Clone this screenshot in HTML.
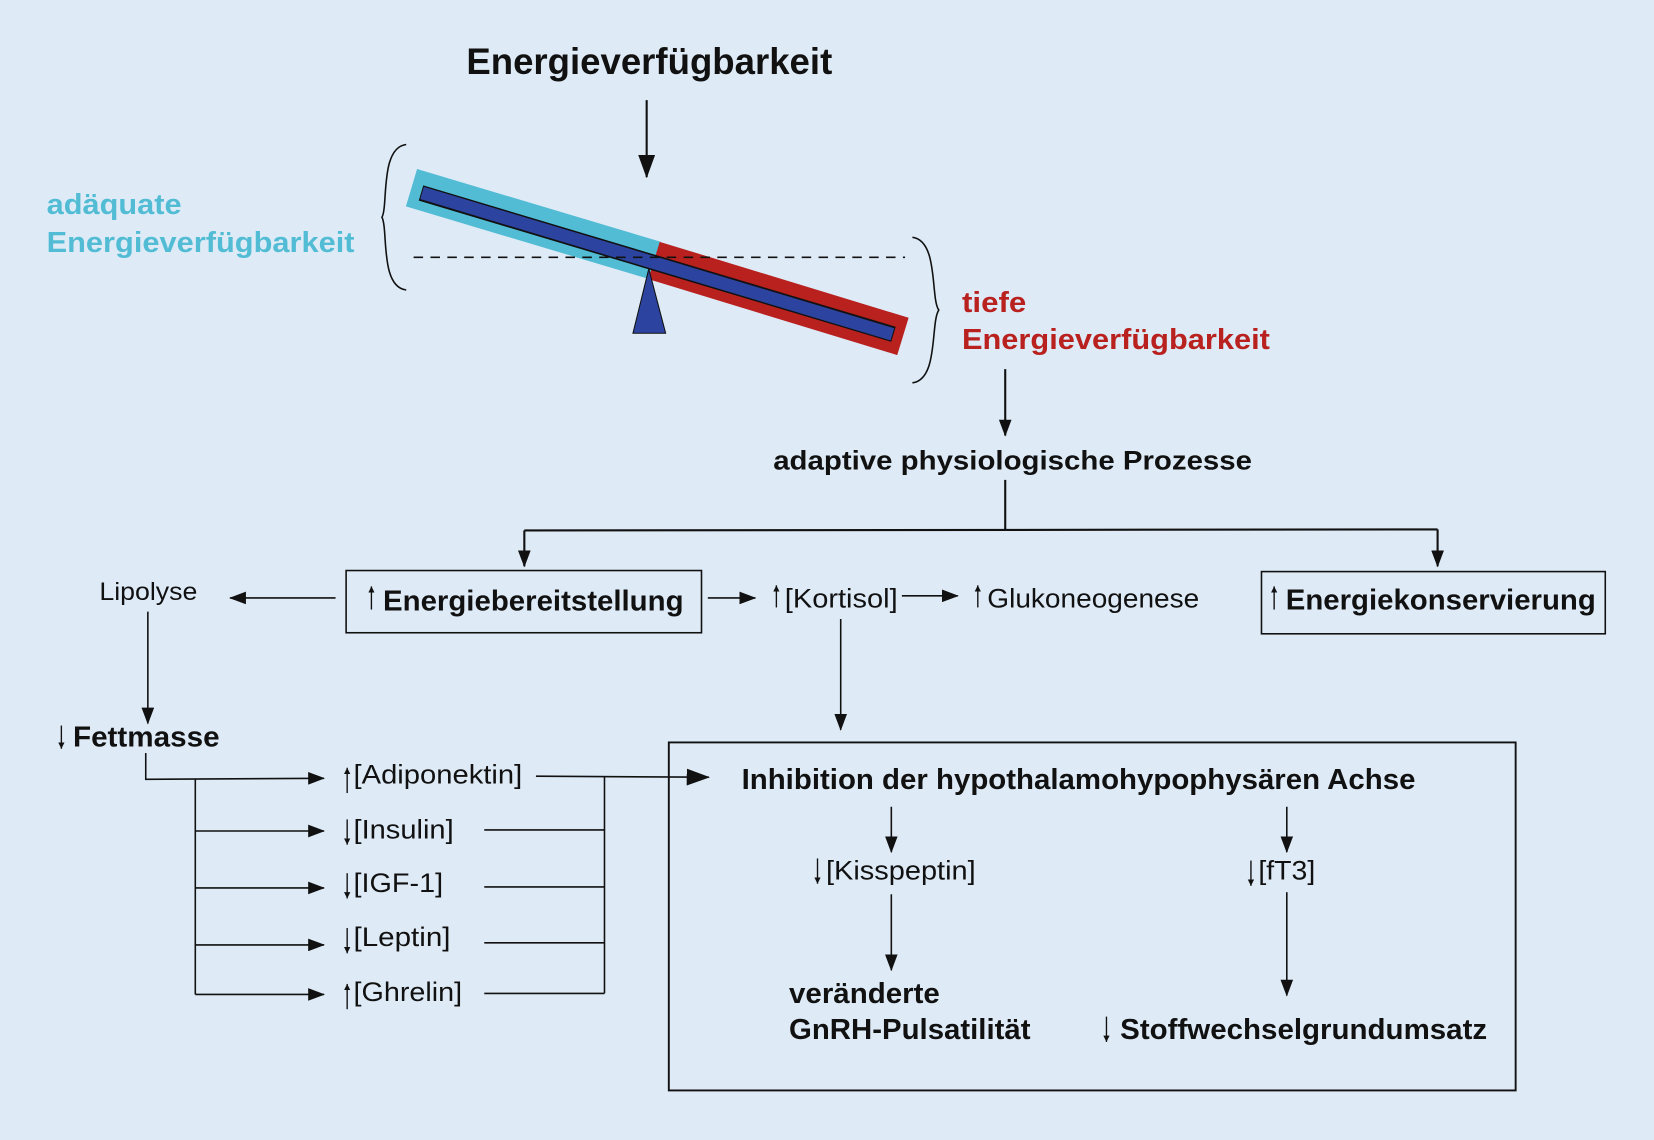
<!DOCTYPE html>
<html><head><meta charset="utf-8"><style>
html,body{margin:0;padding:0;background:#deebf7;}
svg{display:block;}
text{font-family:"Liberation Sans",Arial,sans-serif;fill:#111;}
.b{font-weight:bold;}
</style></head><body>
<svg width="1654" height="1140" viewBox="0 0 1568 1081" xmlns="http://www.w3.org/2000/svg">
<defs>
<marker id="a" markerWidth="16" markerHeight="12" refX="15" refY="6" orient="auto" markerUnits="userSpaceOnUse"><path d="M0,0 L16,6 L0,12 Z" fill="#111"/></marker>
<marker id="big" markerWidth="22" markerHeight="16" refX="21" refY="8" orient="auto" markerUnits="userSpaceOnUse"><path d="M0,0 L22,8 L0,16 Z" fill="#111"/></marker>
<marker id="s" markerWidth="6" markerHeight="8" refX="6" refY="3" orient="auto" markerUnits="userSpaceOnUse"><path d="M0,0 L6,3 L0,6 Z" fill="#111"/></marker>
</defs>
<rect width="1568" height="1081" fill="#deebf7"/>
<text x="442" y="70" class="b" font-size="35" textLength="347" lengthAdjust="spacingAndGlyphs">Energieverfügbarkeit</text>
<line x1="613" y1="95" x2="613" y2="168" stroke="#111" stroke-width="2" marker-end="url(#big)"/>
<text x="44" y="203" class="b" font-size="27" style="fill:#52bcd4" textLength="128" lengthAdjust="spacingAndGlyphs">adäquate</text>
<text x="44" y="239" class="b" font-size="27" style="fill:#52bcd4" textLength="292" lengthAdjust="spacingAndGlyphs">Energieverfügbarkeit</text>
<text x="912" y="296" class="b" font-size="27" style="fill:#b8211e" textLength="61" lengthAdjust="spacingAndGlyphs">tiefe</text>
<text x="912" y="331" class="b" font-size="27" style="fill:#b8211e" textLength="292" lengthAdjust="spacingAndGlyphs">Energieverfügbarkeit</text>
<path d="M385,137 C360,140 368,195 362,206 C368,218 360,272 385,275" fill="none" stroke="#111" stroke-width="1.5"/>
<path d="M865,225 C890,228 882,283 890,294 C882,306 890,360 865,363" fill="none" stroke="#111" stroke-width="1.5"/>
<line x1="390" y1="178" x2="621" y2="247" stroke="#52bcd4" stroke-width="37"/>
<line x1="620" y1="247" x2="856" y2="319" stroke="#b8211e" stroke-width="37"/>
<line x1="399" y1="183" x2="847" y2="317" stroke="#111" stroke-width="15"/>
<line x1="400" y1="183" x2="846" y2="317" stroke="#2c44a0" stroke-width="12"/>
<line x1="392" y1="244" x2="858" y2="244" stroke="#111" stroke-width="1.5" stroke-dasharray="9,7"/>
<path d="M615,255 L600,316 L631,316 Z" fill="#2c44a0" stroke="#111" stroke-width="1"/>
<line x1="953" y1="350" x2="953" y2="413" stroke="#111" stroke-width="2" marker-end="url(#a)"/>
<text x="733" y="445" class="b" font-size="25" textLength="454" lengthAdjust="spacingAndGlyphs">adaptive physiologische Prozesse</text>
<path d="M953,455 L953,502 M497,503 L1363,502" stroke="#111" stroke-width="2" fill="none"/>
<path d="M497,503 L497,537" stroke="#111" stroke-width="2" marker-end="url(#a)"/>
<path d="M1363,502 L1363,537" stroke="#111" stroke-width="2" marker-end="url(#a)"/>
<rect x="328" y="541" width="337" height="59" fill="none" stroke="#111" stroke-width="1.5"/>
<rect x="1196" y="542" width="326" height="59" fill="none" stroke="#111" stroke-width="1.5"/>
<line x1="352" y1="578" x2="352" y2="556" stroke="#111" stroke-width="1.3" marker-end="url(#s)"/>
<text x="363" y="579" class="b" font-size="27" textLength="285" lengthAdjust="spacingAndGlyphs">Energiebereitstellung</text>
<line x1="1208" y1="578" x2="1208" y2="556" stroke="#111" stroke-width="1.3" marker-end="url(#s)"/>
<text x="1219" y="578" class="b" font-size="27" textLength="294" lengthAdjust="spacingAndGlyphs">Energiekonservierung</text>
<text x="94" y="569" font-size="24" textLength="93" lengthAdjust="spacingAndGlyphs">Lipolyse</text>
<line x1="318" y1="567" x2="218" y2="567" stroke="#111" stroke-width="1.5" marker-end="url(#a)"/>
<line x1="671" y1="567" x2="716" y2="567" stroke="#111" stroke-width="1.5" marker-end="url(#a)"/>
<line x1="736" y1="576" x2="736" y2="555" stroke="#111" stroke-width="1.3" marker-end="url(#s)"/>
<text x="744" y="576" font-size="25" textLength="107" lengthAdjust="spacingAndGlyphs">[Kortisol]</text>
<line x1="855" y1="565" x2="908" y2="565" stroke="#111" stroke-width="1.5" marker-end="url(#a)"/>
<line x1="927" y1="576" x2="927" y2="555" stroke="#111" stroke-width="1.3" marker-end="url(#s)"/>
<text x="936" y="576" font-size="25" textLength="201" lengthAdjust="spacingAndGlyphs">Glukoneogenese</text>
<line x1="797" y1="587" x2="797" y2="692" stroke="#111" stroke-width="1.5" marker-end="url(#a)"/>
<line x1="140" y1="580" x2="140" y2="686" stroke="#111" stroke-width="1.5" marker-end="url(#a)"/>
<line x1="58" y1="688" x2="58" y2="710" stroke="#111" stroke-width="1.3" marker-end="url(#s)"/>
<text x="69" y="708" class="b" font-size="27" textLength="139" lengthAdjust="spacingAndGlyphs">Fettmasse</text>
<path d="M138,714 L138,739 L307,738" stroke="#111" stroke-width="1.5" fill="none" marker-end="url(#a)"/>
<path d="M185,739 L185,943" stroke="#111" stroke-width="1.5" fill="none"/>
<line x1="185" y1="788" x2="307" y2="788" stroke="#111" stroke-width="1.5" marker-end="url(#a)"/>
<line x1="185" y1="842" x2="307" y2="842" stroke="#111" stroke-width="1.5" marker-end="url(#a)"/>
<line x1="185" y1="896" x2="307" y2="896" stroke="#111" stroke-width="1.5" marker-end="url(#a)"/>
<line x1="185" y1="943" x2="307" y2="943" stroke="#111" stroke-width="1.5" marker-end="url(#a)"/>
<line x1="329" y1="752" x2="329" y2="728" stroke="#111" stroke-width="1.3" marker-end="url(#s)"/>
<text x="335" y="743" font-size="25" textLength="160" lengthAdjust="spacingAndGlyphs">[Adiponektin]</text>
<line x1="329" y1="777" x2="329" y2="801" stroke="#111" stroke-width="1.3" marker-end="url(#s)"/>
<text x="335" y="795" font-size="25" textLength="95" lengthAdjust="spacingAndGlyphs">[Insulin]</text>
<line x1="329" y1="828" x2="329" y2="852" stroke="#111" stroke-width="1.3" marker-end="url(#s)"/>
<text x="335" y="846" font-size="25" textLength="85" lengthAdjust="spacingAndGlyphs">[IGF-1]</text>
<line x1="329" y1="880" x2="329" y2="904" stroke="#111" stroke-width="1.3" marker-end="url(#s)"/>
<text x="335" y="897" font-size="25" textLength="92" lengthAdjust="spacingAndGlyphs">[Leptin]</text>
<line x1="329" y1="957" x2="329" y2="933" stroke="#111" stroke-width="1.3" marker-end="url(#s)"/>
<text x="335" y="949" font-size="25" textLength="103" lengthAdjust="spacingAndGlyphs">[Ghrelin]</text>
<path d="M508,736 L672,737" stroke="#111" stroke-width="1.5" marker-end="url(#big)"/>
<path d="M459,787 L573,787 M459,841 L573,841 M459,894 L573,894 M459,942 L573,942 M573,736 L573,942" stroke="#111" stroke-width="1.5" fill="none"/>
<rect x="634" y="704" width="803" height="330" fill="none" stroke="#111" stroke-width="1.8"/>
<text x="703" y="748" class="b" font-size="27" textLength="639" lengthAdjust="spacingAndGlyphs">Inhibition der hypothalamohypophysären Achse</text>
<line x1="845" y1="765" x2="845" y2="808" stroke="#111" stroke-width="1.5" marker-end="url(#a)"/>
<line x1="1220" y1="765" x2="1220" y2="808" stroke="#111" stroke-width="1.5" marker-end="url(#a)"/>
<line x1="775" y1="814" x2="775" y2="838" stroke="#111" stroke-width="1.3" marker-end="url(#s)"/>
<text x="783" y="834" font-size="25" textLength="142" lengthAdjust="spacingAndGlyphs">[Kisspeptin]</text>
<line x1="1186" y1="816" x2="1186" y2="840" stroke="#111" stroke-width="1.3" marker-end="url(#s)"/>
<text x="1193" y="834" font-size="25" textLength="54" lengthAdjust="spacingAndGlyphs">[fT3]</text>
<line x1="845" y1="848" x2="845" y2="920" stroke="#111" stroke-width="1.5" marker-end="url(#a)"/>
<line x1="1220" y1="846" x2="1220" y2="944" stroke="#111" stroke-width="1.5" marker-end="url(#a)"/>
<text x="748" y="951" class="b" font-size="27" textLength="143" lengthAdjust="spacingAndGlyphs">veränderte</text>
<text x="748" y="985" class="b" font-size="27" textLength="229" lengthAdjust="spacingAndGlyphs">GnRH-Pulsatilität</text>
<line x1="1049" y1="964" x2="1049" y2="988" stroke="#111" stroke-width="1.3" marker-end="url(#s)"/>
<text x="1062" y="985" class="b" font-size="27" textLength="348" lengthAdjust="spacingAndGlyphs">Stoffwechselgrundumsatz</text>
</svg>
</body></html>
